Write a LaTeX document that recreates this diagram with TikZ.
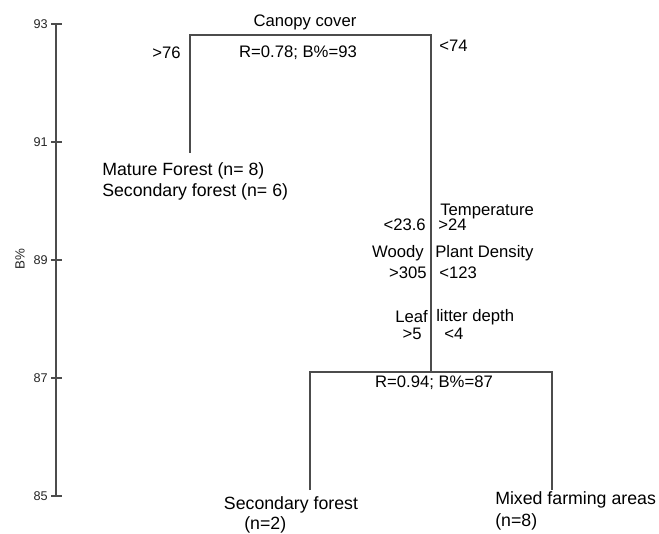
\documentclass[tikz,border=0pt]{standalone}
\usepackage{fontspec}
\setmainfont{Liberation Sans}
\begin{document}
\begin{tikzpicture}[x=0.75pt,y=-0.75pt,
        branch/.style={draw=black!70, line width=0.9pt},
        lbl/.style={inner sep=0pt, font=\fontsize{12.5}{15.75}\selectfont},
        leaflbl/.style={inner sep=0pt, font=\fontsize{13.3}{15.75}\selectfont},
        ticklbl/.style={inner sep=0pt, anchor=east, text=black!85, font=\fontsize{9.5}{11}\selectfont}]
\useasboundingbox (0,0) rectangle (659,534);

\draw[branch] (56,24) -- (56,496);
\foreach \v/\y in {93/24, 91/142, 89/260, 87/378, 85/496}{
    \draw[branch] (51,\y) -- (62,\y);
    \node[ticklbl] (tick\v) at (48,\y) {\v};
}
\node[ticklbl, anchor=center, rotate=90, font=\fontsize{10}{11}\selectfont] (yaxis) at (20,259) {B\%};

\coordinate (rootL) at (190,35);
\coordinate (rootR) at (431,35);
\coordinate (splitL) at (310,372);
\coordinate (splitR) at (552,372);
\coordinate (split) at (rootR |- splitL);

\node[lbl] (canopy) at (305,22) {Canopy cover};
\node[lbl] (statA) at (298,53) {R=0.78; B\%=93};
\node[lbl, anchor=east] (gt76) at (181,53) {>76};
\node[lbl, anchor=west] (lt74) at (439,46) {<74};

\node[leaflbl, anchor=north west, align=left] (leafA) at (102,162) {Mature Forest (n= 8)\\Secondary forest (n= 6)};

\node[lbl, anchor=west] (temp) at (440,211) {Temperature};
\node[lbl, anchor=east] (lt236) at (426,225) {<23.6};
\node[lbl, anchor=west] (gt24) at (438,225) {>24};
\node[lbl, anchor=east] (woody) at (424,253) {Woody};
\node[lbl, anchor=west] (plant) at (435,253) {Plant Density};
\node[lbl, anchor=east] (gt305) at (427,273) {>305};
\node[lbl, anchor=west] (lt123) at (439,273) {<123};
\node[lbl, anchor=east] (leaf) at (428,317) {Leaf};
\node[lbl, anchor=west] (litter) at (436,317) {litter depth};
\node[lbl, anchor=east] (gt5) at (422,334) {>5};
\node[lbl, anchor=west] (lt4) at (444,334) {<4};

\node[lbl] (statB) at (434,383) {R=0.94; B\%=87};

\node[leaflbl, anchor=north] (leafB) at (291,496) {Secondary forest};
\node[leaflbl, anchor=north west] (leafBn) at (244,516) {(n=2)};
\node[leaflbl, anchor=north west] (leafC) at (495,491) {Mixed farming areas};
\node[leaflbl, anchor=north west] (leafCn) at (495,513) {(n=8)};

\draw[branch] (rootL |- leafA.north) ++(0,-9) -- (rootL) -- (rootR) -- (split);
\draw[branch] (splitL |- leafB.north) ++(0,-6) -- (splitL) -- (splitR) -- ++(0,118);
\end{tikzpicture}
\end{document}
